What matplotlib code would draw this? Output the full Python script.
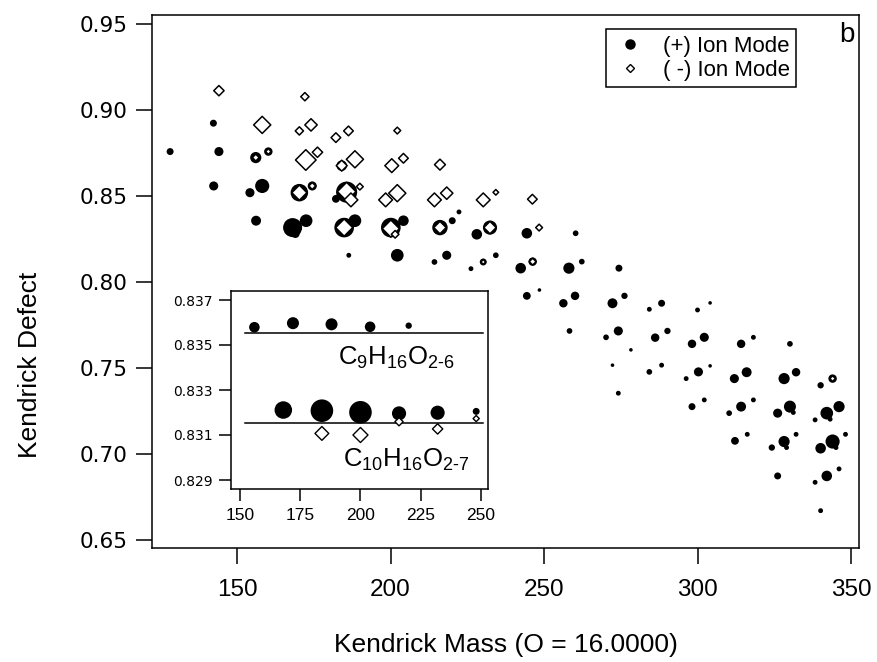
import matplotlib
matplotlib.use("Agg")
import matplotlib.pyplot as plt
from matplotlib.lines import Line2D

# (+) ion mode: Kendrick mass, Kendrick defect, relative signal (marker radius scale)
pos_mass = [128.2, 142.3, 144.1, 142.4, 156.2, 154.2, 158.2, 156.1, 160.2, 170.3,
            174.5, 168.1, 169.0, 172.5, 184.9, 188.4, 185.7, 182.2, 186.4, 184.1,
            200.1, 204.2, 202.2, 216.1, 220.1, 222.3, 214.3, 218.3, 228.1, 232.4,
            226.2, 230.2, 234.3, 244.4, 260.3, 242.4, 246.3, 258.1, 262.3, 274.4,
            244.4, 248.5, 256.3, 260.1, 258.3, 272.3, 276.2, 270.2, 274.2, 278.3,
            272.3, 274.2, 284.3, 288.3, 286.2, 290.2, 284.3, 288.3, 300.0, 304.1,
            298.2, 302.2, 296.3, 300.3, 304.1, 298.2, 302.2, 314.2, 318.2, 312.0,
            316.0, 310.3, 314.2, 318.2, 312.2, 316.2, 330.1, 328.2, 332.1, 326.1,
            330.1, 331.2, 332.1, 324.2, 328.2, 329.0, 326.1, 340.1, 344.0, 338.3,
            342.1, 343.2, 346.1, 340.1, 344.0, 345.1, 348.2, 338.3, 342.1, 346.1,
            340.1]
pos_defect = [0.8758, 0.8923, 0.8758, 0.8558, 0.8356, 0.8519, 0.8558, 0.8723, 0.8758, 0.8519,
              0.8558, 0.8316, 0.8280, 0.8356, 0.8316, 0.8356, 0.8522, 0.8483, 0.8155, 0.8676,
              0.8316, 0.8356, 0.8155, 0.8316, 0.8356, 0.8407, 0.8116, 0.8155, 0.8277, 0.8316,
              0.8077, 0.8116, 0.8155, 0.8283, 0.8283, 0.8080, 0.8118, 0.8080, 0.8118, 0.8080,
              0.7919, 0.7953, 0.7876, 0.7919, 0.7715, 0.7876, 0.7919, 0.7678, 0.7715, 0.7605,
              0.7516, 0.7353, 0.7841, 0.7876, 0.7676, 0.7715, 0.7477, 0.7516, 0.7837, 0.7878,
              0.7640, 0.7678, 0.7438, 0.7477, 0.7512, 0.7275, 0.7314, 0.7640, 0.7678, 0.7438,
              0.7475, 0.7237, 0.7275, 0.7314, 0.7076, 0.7114, 0.7640, 0.7438, 0.7475, 0.7237,
              0.7275, 0.7241, 0.7114, 0.7037, 0.7072, 0.7037, 0.6872, 0.7399, 0.7438, 0.7198,
              0.7237, 0.7202, 0.7275, 0.7033, 0.7072, 0.7037, 0.7114, 0.6835, 0.6872, 0.6913,
              0.6670]
pos_signal = [3.3, 3.3, 4.3, 4.3, 4.7, 4.3, 6.7, 5.3, 4.0, 8.3,
              4.3, 9.0, 4.0, 6.0, 9.3, 6.0, 10.0, 3.7, 2.3, 5.0,
              9.3, 5.0, 6.0, 7.3, 3.3, 2.3, 2.7, 4.3, 5.0, 6.7,
              2.3, 3.3, 2.7, 5.0, 2.7, 5.0, 4.0, 5.3, 2.7, 3.3,
              3.7, 1.7, 4.0, 4.0, 2.7, 4.7, 3.0, 2.7, 4.3, 1.7,
              1.7, 2.3, 2.3, 3.3, 4.0, 3.0, 2.7, 2.3, 2.3, 1.7,
              4.0, 4.3, 2.3, 4.3, 1.7, 3.3, 2.3, 4.0, 2.3, 4.3,
              4.7, 2.7, 4.7, 2.3, 3.7, 2.3, 2.7, 5.3, 4.0, 4.3,
              5.7, 2.3, 2.3, 3.0, 5.3, 2.3, 3.3, 3.0, 4.0, 2.3,
              6.0, 2.3, 5.3, 5.0, 6.7, 2.3, 2.3, 2.3, 5.0, 2.3,
              2.3]

# (-) ion mode
neg_mass = [144.1, 158.2, 156.1, 160.2, 170.3, 174.1, 172.1, 172.4, 176.2, 170.3,
            174.5, 182.2, 186.3, 184.1, 188.4, 185.7, 187.1, 190.0, 184.9, 202.2,
            200.4, 204.2, 198.4, 202.2, 200.1, 201.5, 216.1, 214.3, 218.3, 216.1,
            230.2, 234.3, 232.4, 230.2, 246.2, 248.4, 246.3, 344.0]
neg_defect = [0.9112, 0.8913, 0.8723, 0.8758, 0.8878, 0.8913, 0.9077, 0.8709, 0.8754, 0.8519,
              0.8558, 0.8839, 0.8878, 0.8676, 0.8713, 0.8525, 0.8477, 0.8554, 0.8316, 0.8880,
              0.8676, 0.8719, 0.8477, 0.8516, 0.8310, 0.8277, 0.8682, 0.8477, 0.8516, 0.8316,
              0.8477, 0.8521, 0.8316, 0.8116, 0.8481, 0.8316, 0.8118, 0.7438]
neg_signal = [5.0, 8.3, 3.3, 2.7, 4.0, 6.0, 4.0, 10.0, 5.0, 7.3,
              3.3, 4.7, 4.7, 5.3, 8.3, 9.0, 6.7, 3.3, 8.3, 3.3,
              6.7, 4.7, 6.7, 8.3, 8.3, 3.7, 5.3, 6.7, 6.0, 6.0,
              6.7, 2.7, 6.0, 2.3, 4.7, 3.3, 3.3, 2.7]

# inset: C9H16O2-6 and C10H16O2-7 series
c9_mass = [156, 172, 188, 204, 220]
c9_defect = [0.83579, 0.83597, 0.83592, 0.83581, 0.83586]
c9_signal = [5.0, 5.7, 5.7, 5.0, 3.0]
c10_pos_mass = [168, 184, 200, 216, 232, 248]
c10_pos_defect = [0.83211, 0.83208, 0.83201, 0.83196, 0.83199, 0.83205]
c10_pos_signal = [8.3, 10.7, 10.7, 6.7, 6.7, 3.3]
c10_neg_mass = [184, 200, 216, 232, 248]
c10_neg_defect = [0.83107, 0.83100, 0.83159, 0.83127, 0.83173]
c10_neg_signal = [6.7, 7.3, 4.0, 5.0, 3.0]
c9_ref = 0.83555
c10_ref = 0.83152
ref_span = [152, 251]


def circ_size(r):
    return [(2 * v * 0.76) ** 2 for v in r]


def diam_size(h):
    return [(1.05 * v) ** 2 for v in h]


sans = ['Liberation Sans', 'DejaVu Sans']
wide = ['DejaVu Sans']
plt.rcParams['mathtext.fontset'] = 'custom'
plt.rcParams['mathtext.rm'] = 'Liberation Sans'
plt.rcParams['axes.linewidth'] = 1.1

fig = plt.figure(figsize=(8.77, 6.62), dpi=100)
ax = fig.add_axes([152 / 877, (662 - 548) / 662, 707 / 877, 533 / 662])

ax.scatter(pos_mass, pos_defect, s=circ_size(pos_signal), c='black', linewidths=0, zorder=2)
ax.scatter(neg_mass, neg_defect, s=diam_size(neg_signal), marker='D', facecolors='white',
           edgecolors='black', linewidths=1.1, zorder=3)

ax.set_xlim(122.3, 352.6)
ax.set_ylim(0.6453, 0.9552)
ax.set_xticks([150, 200, 250, 300, 350])
ax.set_yticks([0.65, 0.70, 0.75, 0.80, 0.85, 0.90, 0.95])
ax.set_yticklabels(['0.65', '0.70', '0.75', '0.80', '0.85', '0.90', '0.95'])
ax.tick_params(direction='out', length=11.5, width=1.1, color='black')
ax.tick_params(axis='x', pad=11)
ax.tick_params(axis='y', pad=6)
for tl in ax.get_xticklabels():
    tl.set_fontfamily(sans)
    tl.set_fontsize(17.5)
for tl in ax.get_yticklabels():
    tl.set_fontfamily(wide)
    tl.set_fontsize(15.5)

fig.text(505.5 / 877, 1 - 645 / 662, 'Kendrick Mass (O = 16.0000)', family=sans,
         fontsize=19, ha='center', va='center')
fig.text(30.5 / 877, 1 - 365 / 662, 'Kendrick Defect', family=sans, fontsize=19,
         rotation=90, ha='center', va='center')

ax.text(0.9826, 0.962, 'b', transform=ax.transAxes, family=sans,
        fontsize=20, ha='center', va='center')

handles = [Line2D([], [], ls='none', marker='o', color='black', markersize=6.5),
           Line2D([], [], ls='none', marker='D', markerfacecolor='white',
                  markeredgecolor='black', markeredgewidth=1.0, markersize=4.5)]
leg = ax.legend(handles, ['(+) Ion Mode', '( -) Ion Mode'], loc='upper left',
                bbox_to_anchor=(0.6417, 0.9732), borderaxespad=0, fancybox=False,
                framealpha=1, edgecolor='black', prop={'family': sans, 'size': 16},
                handletextpad=0.7, borderpad=0.28, labelspacing=0.15, handlelength=1.6)
leg.get_frame().set_linewidth(1.1)

# inset
ins = fig.add_axes([231 / 877, (662 - 489) / 662, 257 / 877, 198 / 662], zorder=5)
ins.set_facecolor('white')
ins.plot(ref_span, [c9_ref, c9_ref], color='black', lw=1.1, zorder=1)
ins.plot(ref_span, [c10_ref, c10_ref], color='black', lw=1.1, zorder=1)
ins.scatter(c9_mass, c9_defect, s=circ_size(c9_signal), c='black', linewidths=0, zorder=2)
ins.scatter(c10_pos_mass, c10_pos_defect, s=circ_size(c10_pos_signal), c='black',
            linewidths=0, zorder=2)
ins.scatter(c10_neg_mass, c10_neg_defect, s=diam_size(c10_neg_signal), marker='D',
            facecolors='white', edgecolors='black', linewidths=1.0, zorder=3)
ins.set_xlim(146.3, 252.9)
ins.set_ylim(0.8286, 0.8374)
ins.set_xticks([150, 175, 200, 225, 250])
ins.set_yticks([0.829, 0.831, 0.833, 0.835, 0.837])
ins.set_yticklabels(['0.829', '0.831', '0.833', '0.835', '0.837'])
ins.tick_params(direction='out', length=8.5, width=1.1, color='black')
ins.tick_params(axis='x', pad=5)
ins.tick_params(axis='y', pad=5)
for tl in ins.get_xticklabels():
    tl.set_fontfamily(sans)
    tl.set_fontsize(12.5)
for tl in ins.get_yticklabels():
    tl.set_fontfamily(wide)
    tl.set_fontsize(10)

ins.text(190.7, 0.83411, r'$\mathrm{C_9H_{16}O_{2\text{-}6}}$', fontsize=18.5,
         ha='left', va='baseline')
ins.text(192.8, 0.82958, r'$\mathrm{C_{10}H_{16}O_{2\text{-}7}}$', fontsize=18.5,
         ha='left', va='baseline')

fig.savefig('out.png', dpi=100)
